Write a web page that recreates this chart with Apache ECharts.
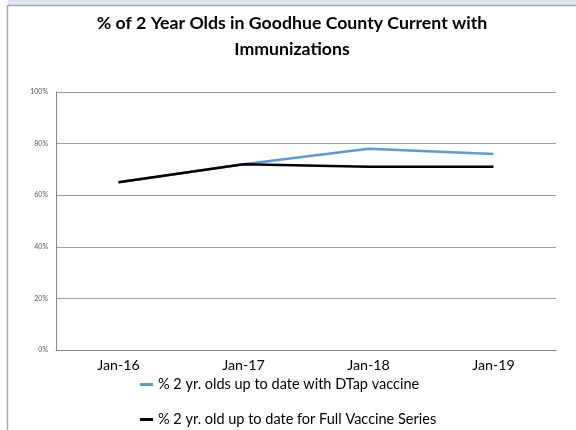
<!DOCTYPE html>
<html><head><meta charset="utf-8">
<script src="https://cdn.jsdelivr.net/npm/echarts@6/dist/echarts.min.js"></script>
<style>html,body{margin:0;padding:0;background:#fff}#c{width:576px;height:430px}</style>
</head><body><div id="c"></div>
<script>
const categories = ['Jan-16', 'Jan-17', 'Jan-18', 'Jan-19'];
const dtapValues = [65, 72, 78, 76];
const fullSeriesValues = [65, 72, 71, 71];
const seriesNames = ['% 2 yr. olds up to date with DTap vaccine', '% 2 yr. old up to date for Full Vaccine Series'];
const titleText = '% of 2 Year Olds in Goodhue County Current with\nImmunizations';

const FONT = 'Lato, "Open Sans", sans-serif';
const chart = echarts.init(document.getElementById('c'), null, {renderer: 'canvas'});
chart.setOption({
  backgroundColor: '#ffffff',
  animation: false,
  title: {
    text: titleText,
    left: 287, top: 5, textAlign: 'center',
    textStyle: {fontFamily: FONT, fontWeight: 'bold', fontSize: 17.7, lineHeight: 26, color: '#000'}
  },
  graphic: [
    {type: 'rect', shape: {x: 8, y: 0, width: 568, height: 5}, style: {fill: '#dce6f2'}},
    {type: 'line', shape: {x1: 8, y1: 5.5, x2: 576, y2: 5.5}, style: {stroke: '#a6a6a6', lineWidth: 1.5}},
    {type: 'line', shape: {x1: 7.5, y1: 5, x2: 7.5, y2: 430}, style: {stroke: '#a6a6a6', lineWidth: 1.5}}
  ],
  legend: {
    orient: 'vertical', left: 140, top: 377, itemGap: 20, padding: 0,
    itemWidth: 13, itemHeight: 3, icon: 'rect',
    textStyle: {fontFamily: FONT, fontSize: 14.5, color: '#000'},
    data: seriesNames
  },
  grid: {left: 56, right: 20, top: 92, bottom: 80, containLabel: false},
  xAxis: {
    type: 'category', data: categories, boundaryGap: true,
    axisLine: {lineStyle: {color: '#868686', width: 1}},
    axisTick: {show: false},
    axisLabel: {fontFamily: FONT, fontSize: 14.3, color: '#000', margin: 8}
  },
  yAxis: {
    type: 'value', min: 0, max: 100, interval: 20,
    axisLine: {show: true, lineStyle: {color: '#868686', width: 1}},
    axisTick: {show: false},
    splitLine: {lineStyle: {color: '#a0a0a0', width: 1}},
    axisLabel: {formatter: '{value}%', fontFamily: FONT, fontSize: 7, color: '#595959', margin: 8}
  },
  series: [
    {name: seriesNames[0], type: 'line', data: dtapValues, symbol: 'none',
     lineStyle: {color: '#5b9bd5', width: 2.5}, itemStyle: {color: '#5b9bd5'}},
    {name: seriesNames[1], type: 'line', data: fullSeriesValues, symbol: 'none',
     lineStyle: {color: '#000000', width: 2.5}, itemStyle: {color: '#000000'}}
  ]
});
</script></body></html>
